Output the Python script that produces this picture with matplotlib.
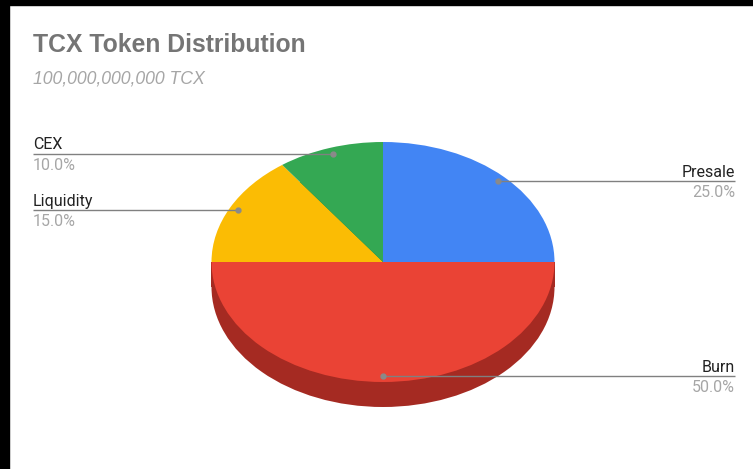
import numpy as np
from matplotlib import pyplot as plt
from matplotlib.patches import Rectangle

# token split
labels = ["Presale", "Burn", "Liquidity", "CEX"]
shares = [25.0, 50.0, 15.0, 10.0]
colors = ["#4285F4", "#EA4335", "#FBBC04", "#34A853"]
side_colors = ["#2A5DB0", "#A52A22", "#B8860B", "#1E7B3A"]

title = "TCX Token Distribution"
subtitle = "100,000,000,000 TCX"

W, H = 753, 469
cx, cy = 383, 262          # pie centre, pixels from top-left
rx, ry = 171.5, 120.0      # ellipse radii, pixels
depth = 25.0               # side thickness, pixels

fig = plt.figure(figsize=(W / 100, H / 100), dpi=100)
fig.patch.set_facecolor("white")

# black frame on the top and left edges of the screenshot
fig.patches.append(Rectangle((0, 1 - 5 / H), 1, 5 / H, transform=fig.transFigure,
                             color="black", zorder=10))
fig.patches.append(Rectangle((0, 0), 9 / W, 1, transform=fig.transFigure,
                             color="black", zorder=10))

# one axes over the whole figure, scaled so the unit circle becomes the ellipse
ax = fig.add_axes([0, 0, 1, 1])
ax.axis("off")

d = depth / ry
# side of the 3d pie: shifted copy plus the band between the two
ax.pie(shares, colors=side_colors, startangle=90, counterclock=False,
       center=(0, -d), radius=1, wedgeprops=dict(linewidth=0))
ax.add_patch(Rectangle((-1, -d), 2, d, color=side_colors[1], linewidth=0, zorder=1))
wedges, _ = ax.pie(shares, colors=colors, startangle=90, counterclock=False,
                   center=(0, 0), radius=1, wedgeprops=dict(linewidth=0))
for w in wedges:
    w.set_zorder(2)
ax.set_aspect("auto")
ax.set_xlim(-cx / rx, (W - cx) / rx)
ax.set_ylim(-(H - cy) / ry, cy / ry)

left_x = (33 - cx) / rx
right_x = (735 - cx) / rx

for w, lab, val in zip(wedges, labels, shares):
    mid = np.deg2rad((w.theta1 + w.theta2) / 2)
    px, py = 0.95 * np.cos(mid), 0.95 * np.sin(mid)
    if px > -1e-6:
        lx, ha = right_x, "right"
    else:
        lx, ha = left_x, "left"
    ax.plot([px, lx], [py, py], color="#808080", linewidth=1.0, zorder=3,
            solid_capstyle="butt")
    ax.plot(px, py, "o", color="#8a8a8a", markersize=3.5, zorder=4)
    ax.annotate(lab, (lx, py), xytext=(0, 3), textcoords="offset points",
                ha=ha, va="baseline", fontsize=11.5, color="#222222",
                family="Roboto", zorder=5)
    ax.annotate(f"{val:.1f}%", (lx, py), xytext=(0, -11.5), textcoords="offset points",
                ha=ha, va="baseline", fontsize=11.5, color="#a6a6a6",
                family="Roboto", zorder=5)

fig.text(33 / W, 1 - 52 / H, title, ha="left", va="baseline", fontsize=17.8,
         fontweight="bold", color="#757575", family="Liberation Sans")
fig.text(33 / W, 1 - 84 / H, subtitle, ha="left", va="baseline", fontsize=12.7,
         fontstyle="italic", color="#a6a6a6", family="Liberation Sans")

fig.savefig("out.png", dpi=100, facecolor="white")
